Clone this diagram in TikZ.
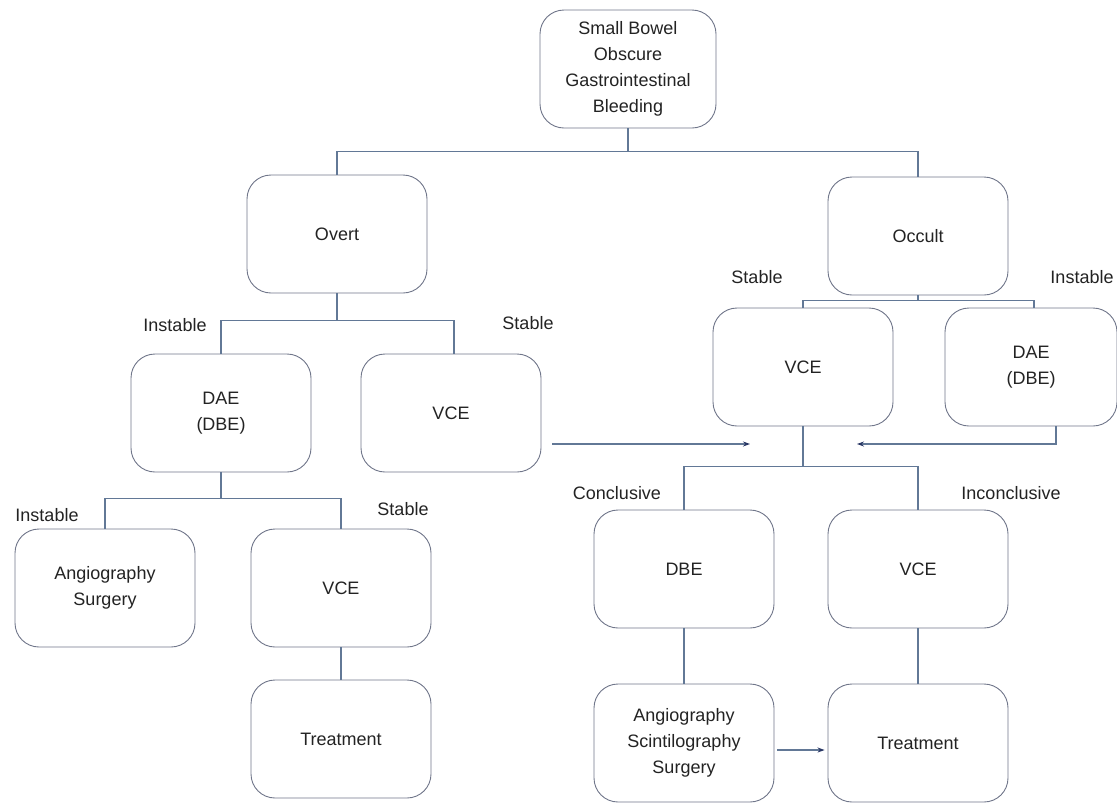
\documentclass[tikz,border=0pt]{standalone}
\usepackage{fontspec}
\setmainfont{Liberation Sans}
\usepackage{tikz}
\usepackage{xcolor}
\usetikzlibrary{arrows.meta}
\definecolor{boxline}{RGB}{112,118,138}
\definecolor{linkline}{RGB}{98,120,150}
\definecolor{arrowblue}{RGB}{40,54,100}
\definecolor{labeltext}{RGB}{35,35,35}
\tikzset{
    rounded-box/.style = {draw=boxline, fill=white, line width=0.9pt, rectangle, rounded corners=24pt, minimum width=180pt, minimum height=118pt, align=center, text=labeltext, font=\fontsize{18}{26}\selectfont},
    branch-label/.style = {text=labeltext, font=\fontsize{18}{20}\selectfont},
    link/.style = {draw=linkline, line width=1.1pt},
    flow-arrow/.style = {link, -{Stealth[length=7pt,width=5pt,color=arrowblue]}},
}

\begin{document}
\begin{tikzpicture}[x=1pt, y=-1pt]
\useasboundingbox (0,0) rectangle (1117,807);
% top level
\node [rounded-box, minimum width=176pt] (bleeding) at (628,69) {Small Bowel\\Obscure\\Gastrointestinal\\Bleeding};
\node [rounded-box] (overt) at (337,234) {Overt};
\node [rounded-box] (occult) at (918,236) {Occult};
% overt branch
\node [rounded-box] (overt-dae) at (221,413) {DAE\\(DBE)};
\node [rounded-box] (overt-vce) at (451,413) {VCE};
\node [rounded-box] (overt-angio) at (105,588) {Angiography\\Surgery};
\node [rounded-box] (overt-vce2) at (341,588) {VCE};
\node [rounded-box] (overt-treat) at (341,739) {Treatment};
% occult branch
\node [rounded-box] (occult-vce) at (803,367) {VCE};
\node [rounded-box, minimum width=172pt] (occult-dae) at (1031,367) {DAE\\(DBE)};
\node [rounded-box] (occult-dbe) at (684,569) {DBE};
\node [rounded-box] (occult-vce2) at (918,569) {VCE};
\node [rounded-box] (occult-angio) at (684,743) {Angiography\\Scintilography\\Surgery};
\node [rounded-box] (occult-treat) at (918,743) {Treatment};

% branch labels
\node [branch-label] (lbl-dae-instable) at (175,325) {Instable};
\node [branch-label] (lbl-vce-stable) at (528,323) {Stable};
\node [branch-label] (lbl-occ-stable) at (757,277) {Stable};
\node [branch-label] (lbl-occ-instable) at (1082,277) {Instable};
\node [branch-label] (lbl-angio-instable) at (47,515) {Instable};
\node [branch-label] (lbl-vce2-stable) at (403,509) {Stable};
\node [branch-label] (lbl-conclusive) at (617,493) {Conclusive};
\node [branch-label] (lbl-inconclusive) at (1011,493) {Inconclusive};

% tree links
\draw [link] (bleeding.south) -- ++(0,23) coordinate (bleeding-split);
\draw [link] (bleeding-split) -| (overt.north);
\draw [link] (bleeding-split) -| (occult.north);
\draw [link] (overt.south) -- ++(0,27) coordinate (overt-split);
\draw [link] (overt-split) -| (overt-dae.north);
\draw [link] (overt-split) -| ([xshift=3pt]overt-vce.north);
\draw [link] (occult.south) -- ++(0,5) coordinate (occult-split);
\draw [link] (occult-split) -| (occult-vce.north);
\draw [link] (occult-split) -| ([xshift=3pt]occult-dae.north);
\draw [link] (overt-dae.south) -- ++(0,26) coordinate (dae-split);
\draw [link] (dae-split) -| (overt-angio.north);
\draw [link] (dae-split) -| (overt-vce2.north);
\draw [link] (overt-vce2) -- (overt-treat);
\draw [link] (occult-vce.south) -- ++(0,40) coordinate (vce-split);
\draw [link] (vce-split) -| (occult-dbe.north);
\draw [link] (vce-split) -| (occult-vce2.north);
\draw [link] (occult-dbe) -- (occult-angio);
\draw [link] (occult-vce2) -- (occult-treat);

% arrows into the occult work-up
\coordinate (merge-left) at (750,444);
\coordinate (merge-right) at (857,444);
\draw [flow-arrow] (overt-vce.east |- merge-left) ++(11,0) -- (merge-left);
\draw [flow-arrow] ([xshift=25pt]occult-dae.south) |- (merge-right);
\draw [flow-arrow, shorten <=3pt, shorten >=3pt] ([yshift=-7pt]occult-angio.east) -- ([yshift=-7pt]occult-treat.west);
\end{tikzpicture}
\end{document}
